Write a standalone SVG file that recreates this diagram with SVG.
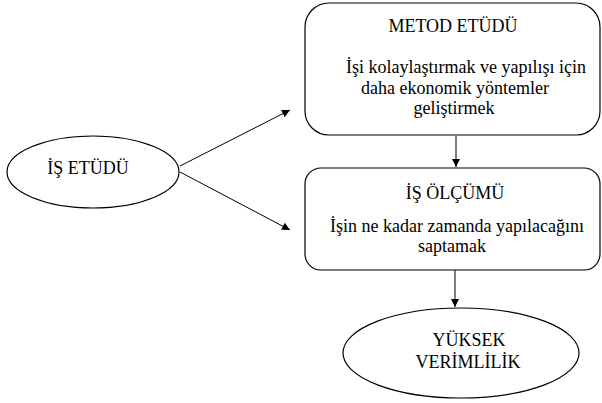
<svg xmlns="http://www.w3.org/2000/svg" width="602" height="403" viewBox="0 0 602 403">
<defs>
<marker id="ah" viewBox="0 0 10 10" refX="10" refY="5" markerWidth="8" markerHeight="8" markerUnits="userSpaceOnUse" orient="auto">
<path d="M0,0 L10,5 L0,10 z" fill="#000"/>
</marker>
</defs>
<rect width="602" height="403" fill="#fff"/>
<g id="connectors" stroke="#000" stroke-width="1" fill="none" marker-end="url(#ah)">
<line x1="180" y1="166" x2="290" y2="110"/>
<line x1="180" y1="172" x2="290" y2="230"/>
<line x1="456" y1="136" x2="456" y2="167"/>
<line x1="455" y1="270" x2="455" y2="307"/>
</g>
<g id="is-etudu">
<ellipse cx="93" cy="172" rx="86" ry="36" fill="#fff" stroke="#000" stroke-width="1.2"/>
<text x="88" y="174" font-family="Liberation Serif" font-size="18" text-anchor="middle" fill="#000">İŞ ETÜDÜ</text>
</g>
<g id="metod-etudu">
<rect x="305" y="3" width="295" height="132" rx="24" fill="#fff" stroke="#000" stroke-width="1.2"/>
<text x="453" y="32" font-family="Liberation Serif" font-size="18" text-anchor="middle" fill="#000">METOD ETÜDÜ</text>
<text x="466" y="73" font-family="Liberation Serif" font-size="18" text-anchor="middle" fill="#000">İşi kolaylaştırmak ve yapılışı için</text>
<text x="455" y="94" font-family="Liberation Serif" font-size="18" text-anchor="middle" fill="#000">daha ekonomik yöntemler</text>
<text x="454" y="114" font-family="Liberation Serif" font-size="18" text-anchor="middle" fill="#000">geliştirmek</text>
</g>
<g id="is-olcumu">
<rect x="305" y="168" width="295" height="102" rx="16" fill="#fff" stroke="#000" stroke-width="1.2"/>
<text x="455" y="199" font-family="Liberation Serif" font-size="18" text-anchor="middle" fill="#000">İŞ ÖLÇÜMÜ</text>
<text x="457" y="232" font-family="Liberation Serif" font-size="18" text-anchor="middle" fill="#000">İşin ne kadar zamanda yapılacağını</text>
<text x="452" y="252" font-family="Liberation Serif" font-size="18" text-anchor="middle" fill="#000">saptamak</text>
</g>
<g id="yuksek-verimlilik">
<ellipse cx="461" cy="353" rx="118" ry="45" fill="#fff" stroke="#000" stroke-width="1.2"/>
<text x="469" y="346" font-family="Liberation Serif" font-size="18" text-anchor="middle" fill="#000">YÜKSEK</text>
<text x="468" y="368" font-family="Liberation Serif" font-size="18" text-anchor="middle" fill="#000">VERİMLİLİK</text>
</g>
</svg>
